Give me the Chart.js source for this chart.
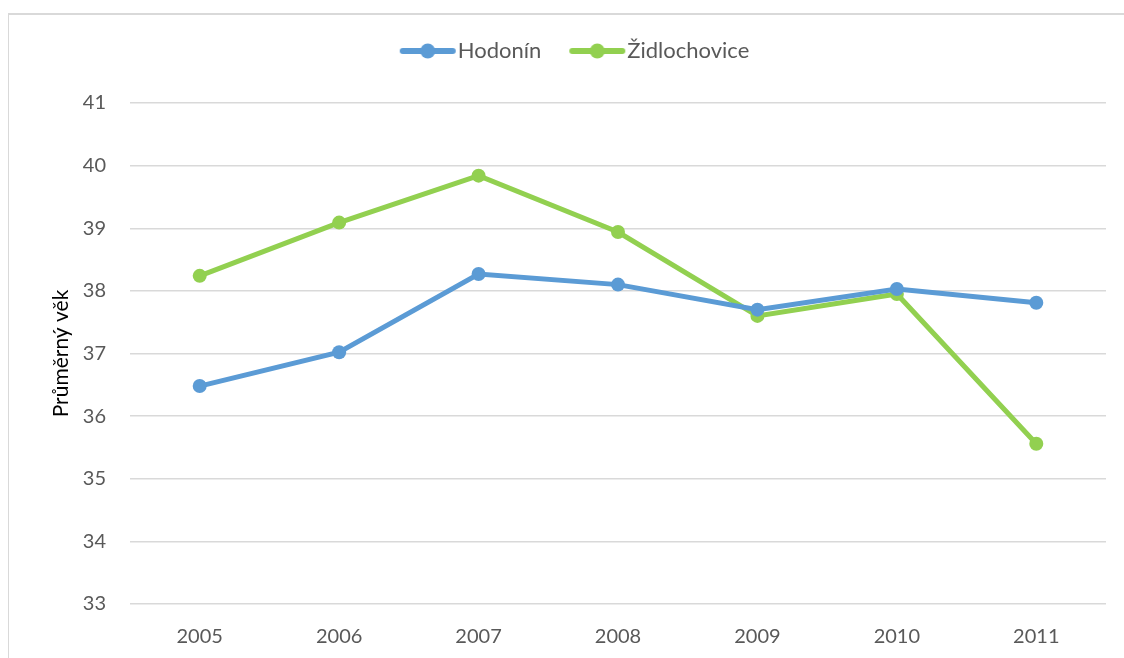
<!DOCTYPE html>
<html>
<head>
    <title>Průměrný věk</title>
    <script src="https://cdn.jsdelivr.net/npm/chart.js"></script>
    <style>
        body { margin: 0; background: #fff; }
        .frame {
            position: absolute;
            left: 8px;
            top: 13px;
            width: 1200px;
            height: 700px;
            border-left: 1px solid #d9d9d9;
            border-top: 2px solid #d9d9d9;
        }
        .wrap {
            position: absolute;
            left: 0;
            top: 0;
            width: 1124px;
            height: 658px;
        }
    </style>
</head>
<body>
    <div class="frame"></div>
    <div class="wrap"><canvas id="ageChart" width="1124" height="658"></canvas></div>
    <script>
        const years = ['2005', '2006', '2007', '2008', '2009', '2010', '2011'];
        const hodonin = [36.48, 37.02, 38.27, 38.10, 37.70, 38.03, 37.81];
        const zidlochovice = [38.24, 39.09, 39.84, 38.94, 37.60, 37.95, 35.56];
        const seriesNames = ['Hodonín', 'Židlochovice'];
        const seriesColors = ['#5b9bd5', '#92d050'];

        // legend marker: short thick line with a dot in the middle
        function legendMarker(color) {
            const c = document.createElement('canvas');
            c.width = 58;
            c.height = 16;
            const g = c.getContext('2d');
            g.strokeStyle = color;
            g.lineWidth = 6;
            g.lineCap = 'round';
            g.beginPath();
            g.moveTo(4, 8);
            g.lineTo(54, 8);
            g.stroke();
            g.fillStyle = color;
            g.beginPath();
            g.arc(29, 8, 7.5, 0, Math.PI * 2);
            g.fill();
            return c;
        }

        // fixed legend band height, plus a small horizontal nudge
        const legendShift = 22;
        const legendTweak = {
            id: 'legendTweak',
            beforeInit(chart) {
                const lg = chart.legend;
                const fit = lg.fit;
                lg.fit = function () {
                    fit.bind(this)();
                    this.height = 100;
                };
                const draw = lg.draw;
                lg.draw = function () {
                    const c = this.ctx;
                    c.save();
                    c.translate(legendShift, 0);
                    draw.bind(this)();
                    c.restore();
                };
            }
        };

        const textColor = '#595959';
        const font = 'Lato';

        const ctx = document.getElementById('ageChart').getContext('2d');
        const ageChart = new Chart(ctx, {
            type: 'line',
            data: {
                labels: years,
                datasets: [{
                    label: seriesNames[0],
                    data: hodonin,
                    borderColor: seriesColors[0],
                    backgroundColor: seriesColors[0],
                    borderWidth: 5,
                    pointRadius: 7,
                    pointHoverRadius: 7,
                    pointBorderWidth: 0,
                    tension: 0,
                    fill: false
                }, {
                    label: seriesNames[1],
                    data: zidlochovice,
                    borderColor: seriesColors[1],
                    backgroundColor: seriesColors[1],
                    borderWidth: 5,
                    pointRadius: 7,
                    pointHoverRadius: 7,
                    pointBorderWidth: 0,
                    tension: 0,
                    fill: false
                }]
            },
            options: {
                responsive: false,
                animation: false,
                layout: { padding: { left: 8, top: 3, right: 18, bottom: 0 } },
                plugins: {
                    tooltip: { enabled: false },
                    legend: {
                        position: 'top',
                        labels: {
                            usePointStyle: true,
                            pointStyleWidth: 38,
                            padding: 37,
                            color: textColor,
                            font: { family: font, size: 22 },
                            generateLabels(chart) {
                                return chart.data.datasets.map((ds, i) => ({
                                    text: ds.label,
                                    pointStyle: legendMarker(ds.borderColor),
                                    fillStyle: ds.borderColor,
                                    strokeStyle: ds.borderColor,
                                    lineWidth: 0,
                                    fontColor: textColor,
                                    datasetIndex: i
                                }));
                            }
                        }
                    }
                },
                scales: {
                    x: {
                        offset: true,
                        grid: { display: false },
                        border: { display: false },
                        ticks: { color: textColor, padding: 13, font: { family: font, size: 20 } },
                        afterFit(scale) { scale.height = 54; }
                    },
                    y: {
                        min: 33,
                        max: 41,
                        grid: { color: '#d9d9d9', lineWidth: 1.5, drawTicks: false },
                        border: { display: false },
                        ticks: { stepSize: 1, color: textColor, padding: 24, font: { family: font, size: 20 } },
                        title: {
                            display: true,
                            text: 'Průměrný věk',
                            color: '#000',
                            padding: { top: 41, bottom: 0 },
                            font: { family: font, size: 21 }
                        },
                        afterFit(scale) { scale.width = 122; }
                    }
                }
            },
            plugins: [legendTweak]
        });
    </script>
</body>
</html>
